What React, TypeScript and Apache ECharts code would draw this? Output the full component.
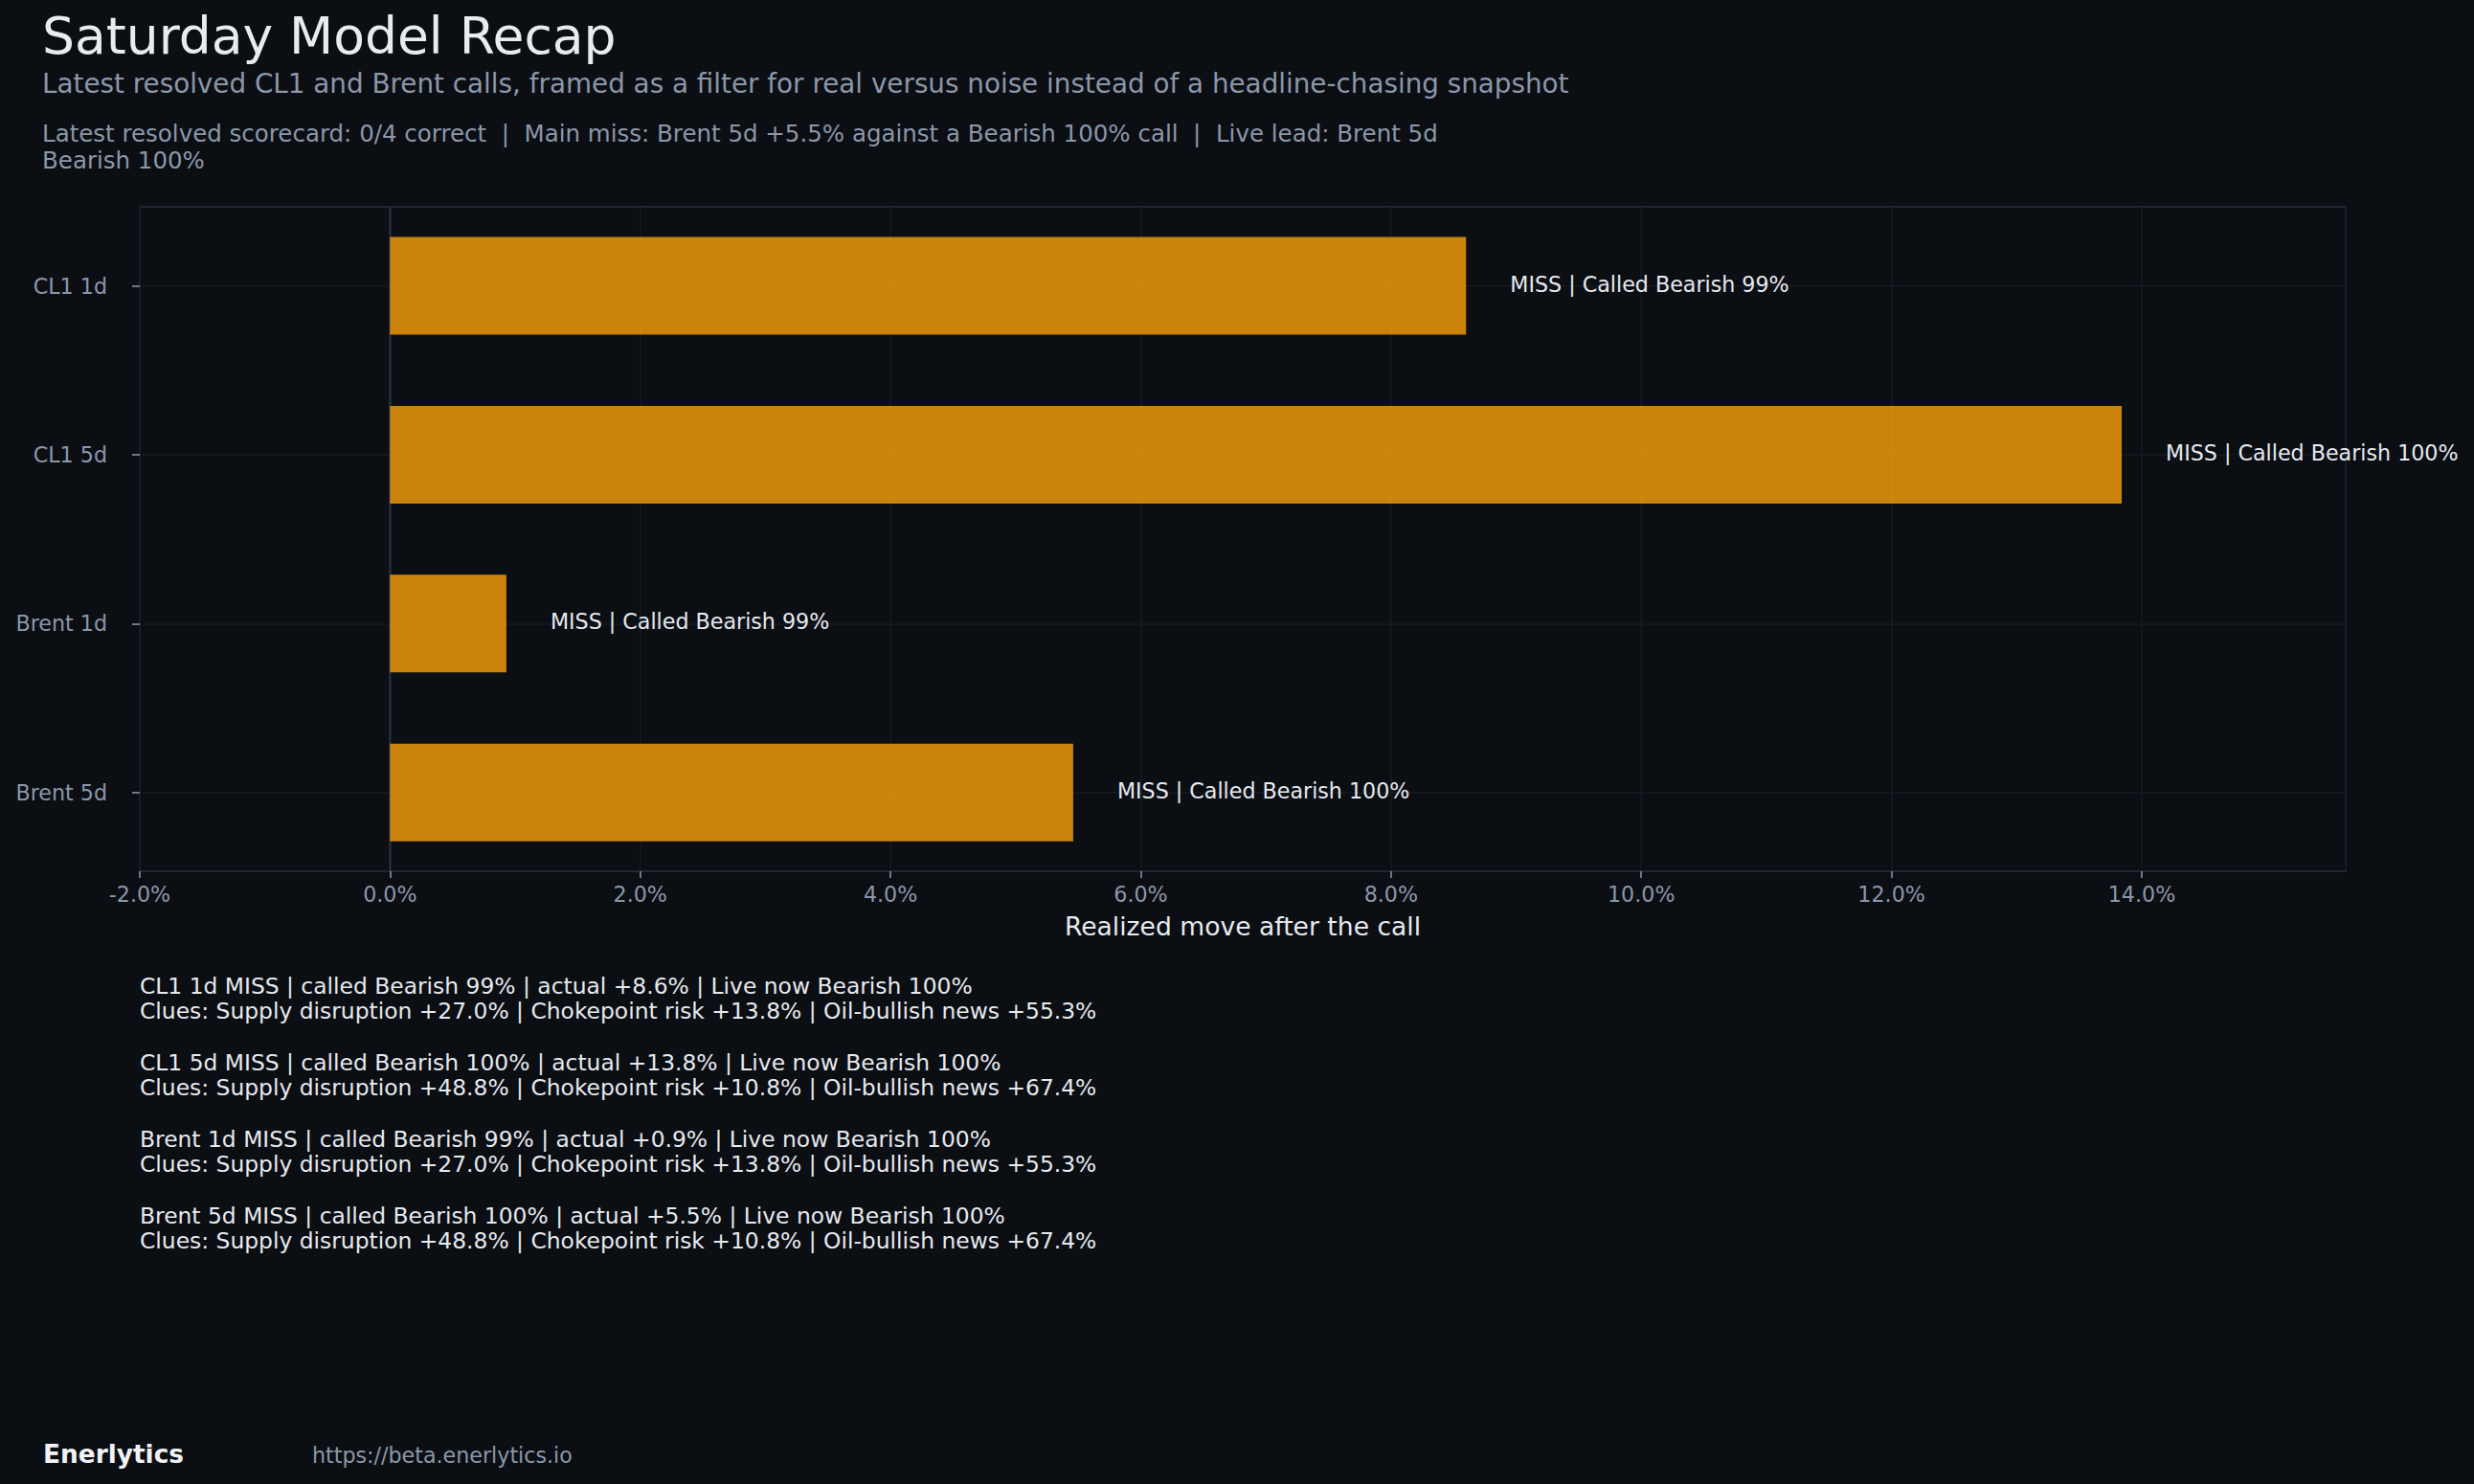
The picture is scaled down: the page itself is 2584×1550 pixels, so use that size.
import React, { useEffect, useRef } from "react";
import * as echarts from "echarts";

const CATEGORIES = ["CL1 1d", "CL1 5d", "Brent 1d", "Brent 5d"];
const REALIZED_MOVE = [8.6, 13.84, 0.93, 5.46];
const BAR_LABELS = [
  "MISS | Called Bearish 99%",
  "MISS | Called Bearish 100%",
  "MISS | Called Bearish 99%",
  "MISS | Called Bearish 100%",
];
const X_MIN = -2;
const X_MAX = 15.63;
const X_STEP = 2;
const ZERO_LINE = 0;

const TITLE = "Saturday Model Recap";
const SUBTITLE =
  "Latest resolved CL1 and Brent calls, framed as a filter for real versus noise instead of a headline-chasing snapshot";
const SCORECARD = [
  "Latest resolved scorecard: 0/4 correct  |  Main miss: Brent 5d +5.5% against a Bearish 100% call  |  Live lead: Brent 5d",
  "Bearish 100%",
];
const X_NAME = "Realized move after the call";
const NOTE_HEADLINES = [
  "CL1 1d MISS | called Bearish 99% | actual +8.6% | Live now Bearish 100%",
  "CL1 5d MISS | called Bearish 100% | actual +13.8% | Live now Bearish 100%",
  "Brent 1d MISS | called Bearish 99% | actual +0.9% | Live now Bearish 100%",
  "Brent 5d MISS | called Bearish 100% | actual +5.5% | Live now Bearish 100%",
];
const NOTE_CLUES = [
  "Clues: Supply disruption +27.0% | Chokepoint risk +13.8% | Oil-bullish news +55.3%",
  "Clues: Supply disruption +48.8% | Chokepoint risk +10.8% | Oil-bullish news +67.4%",
  "Clues: Supply disruption +27.0% | Chokepoint risk +13.8% | Oil-bullish news +55.3%",
  "Clues: Supply disruption +48.8% | Chokepoint risk +10.8% | Oil-bullish news +67.4%",
];
const BRAND = "Enerlytics";
const URL = "https://beta.enerlytics.io";

const FONT = "'DejaVu Sans', sans-serif";
const BG = "#0b0e13";
const FRAME = "#1f2733";
const GRID = "#161b23";
const MUTED = "#8b97a9";
const LIGHT = "#e6e9ee";
const TICK = "#8f9aab";

export default function App() {
  const ref = useRef<HTMLDivElement>(null);

  useEffect(() => {
    document.body.style.margin = "0";
    document.body.style.background = BG;
    if (!ref.current) return;
    const chart = echarts.init(ref.current, undefined, { renderer: "svg" });

    const texts: any[] = [];
    const addText = (text: string, x: number, y: number, size: number, color: string, weight = "normal") => {
      texts.push({
        type: "text",
        x,
        y,
        silent: true,
        style: {
          text,
          fill: color,
          fontSize: size,
          fontFamily: FONT,
          fontWeight: weight,
          align: "left",
          verticalAlign: "middle",
        },
      });
    };

    addText(TITLE, 44, 37.7, 53.5, "#e8ebef");
    addText(SUBTITLE, 44, 87.2, 27.8, MUTED);
    SCORECARD.forEach((line, i) => addText(line, 44, 139.5 + i * 28.3, 24.5, MUTED));
    NOTE_HEADLINES.forEach((line, i) => {
      const base = 1038 + i * 80;
      addText(line, 146, base - 8.4, 23.4, LIGHT);
      addText(NOTE_CLUES[i], 146, base + 26.7 - 8.4, 23.4, LIGHT);
    });
    addText(BRAND, 45, 1518.7, 26.4, "#f0f2f5", "bold");
    addText(URL, 326, 1520, 22.2, MUTED);

    const option: any = {
      animation: false,
      backgroundColor: BG,
      textStyle: { fontFamily: FONT },
      grid: [
        {
          left: 146,
          top: 216,
          width: 2304,
          height: 694,
          show: true,
          borderColor: FRAME,
          borderWidth: 2,
          backgroundColor: "transparent",
          containLabel: false,
        },
        {
          left: 146,
          top: 298.6,
          width: 2304,
          height: 529.1,
          show: false,
          containLabel: false,
        },
      ],
      xAxis: [
        {
          gridIndex: 0,
          type: "value",
          min: X_MIN,
          max: X_MAX,
          interval: X_STEP,
          axisLine: { show: true, onZero: false, lineStyle: { color: FRAME, width: 2 } },
          axisTick: { show: true, length: 7, lineStyle: { color: TICK, width: 1.5 } },
          axisLabel: {
            color: MUTED,
            fontSize: 22.2,
            fontFamily: FONT,
            margin: 13,
            showMaxLabel: false,
            formatter: (v: number) => v.toFixed(1) + "%",
          },
          splitLine: { show: true, lineStyle: { color: GRID, width: 1.5 } },
          name: X_NAME,
          nameLocation: "middle",
          nameGap: 43.5,
          nameTextStyle: { color: LIGHT, fontSize: 26.6, fontFamily: FONT },
        },
        {
          gridIndex: 1,
          type: "value",
          min: X_MIN,
          max: X_MAX,
          show: false,
          axisLine: { onZero: false },
          splitLine: { show: false },
        },
      ],
      yAxis: [
        {
          gridIndex: 0,
          type: "value",
          min: 0,
          max: 1,
          show: false,
          axisLine: { onZero: false },
          splitLine: { show: false },
        },
        {
          gridIndex: 1,
          type: "category",
          data: CATEGORIES,
          inverse: true,
          boundaryGap: false,
          position: "left",
          axisLine: { show: false, onZero: false },
          axisTick: { show: true, length: 8, lineStyle: { color: TICK, width: 1.5 } },
          axisLabel: { color: MUTED, fontSize: 22.2, fontFamily: FONT, margin: 34 },
          splitLine: { show: true, lineStyle: { color: GRID, width: 1.5 } },
        },
      ],
      series: [
        {
          type: "line",
          xAxisIndex: 0,
          yAxisIndex: 0,
          data: [
            [ZERO_LINE, 0],
            [ZERO_LINE, 1],
          ],
          symbol: "none",
          showSymbol: false,
          silent: true,
          z: 1,
          lineStyle: { color: "#2a3342", width: 2 },
        },
        {
          type: "bar",
          xAxisIndex: 1,
          yAxisIndex: 1,
          data: REALIZED_MOVE,
          barWidth: 102,
          z: 2,
          itemStyle: { color: "rgba(245,158,11,0.82)" },
          label: {
            show: true,
            position: "right",
            distance: 46,
            offset: [0, -2],
            color: LIGHT,
            fontSize: 22.2,
            fontFamily: FONT,
            formatter: (p: any) => BAR_LABELS[p.dataIndex],
          },
        },
      ],
      graphic: texts,
    };

    chart.setOption(option);
    return () => chart.dispose();
  }, []);

  return <div ref={ref} style={{ width: 2584, height: 1550, background: BG }} />;
}
